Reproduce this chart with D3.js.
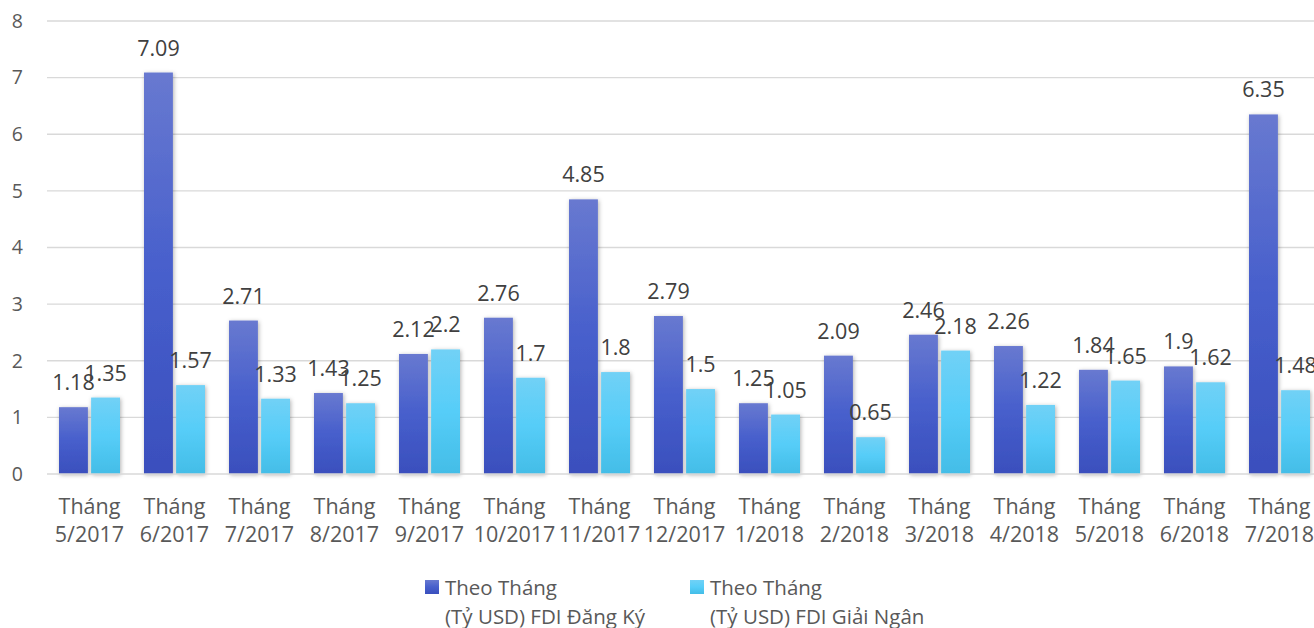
<!DOCTYPE html>
<html>
<head>
<meta charset="utf-8">
<script src="https://cdn.jsdelivr.net/npm/d3@7"></script>
<style>
  html, body { margin: 0; padding: 0; background: #fff; }
  svg { display: block; font-family: "Open Sans", "Noto Sans", sans-serif; }
</style>
</head>
<body>
<svg id="chart" width="1314" height="628"></svg>
<script>
// Monthly FDI, billions USD
const months = ["Tháng 5/2017", "Tháng 6/2017", "Tháng 7/2017", "Tháng 8/2017", "Tháng 9/2017",
  "Tháng 10/2017", "Tháng 11/2017", "Tháng 12/2017", "Tháng 1/2018", "Tháng 2/2018",
  "Tháng 3/2018", "Tháng 4/2018", "Tháng 5/2018", "Tháng 6/2018", "Tháng 7/2018"];
const registered = [1.18, 7.09, 2.71, 1.43, 2.12, 2.76, 4.85, 2.79, 1.25, 2.09, 2.46, 2.26, 1.84, 1.9, 6.35];
const disbursed = [1.35, 1.57, 1.33, 1.25, 2.2, 1.7, 1.8, 1.5, 1.05, 0.65, 2.18, 1.22, 1.65, 1.62, 1.48];
const yTicks = [0, 1, 2, 3, 4, 5, 6, 7, 8];
const seriesNames = [
  ["Theo Tháng", "(Tỷ USD) FDI Đăng Ký"],
  ["Theo Tháng", "(Tỷ USD) FDI Giải Ngân"]
];

const svg = d3.select("#chart");
const left = 47, bandW = 85;
const x = d3.scaleBand().domain(months).range([left, left + bandW * months.length]).paddingInner(0).paddingOuter(0);
const y = d3.scaleLinear().domain([0, 8]).range([474, 21]);
const inner = d3.scaleBand().domain([0, 1]).range([12, 73]).paddingInner(0.1);

const defs = svg.append("defs");
function grad(id, stops) {
  const g = defs.append("linearGradient").attr("id", id).attr("x1", 0).attr("y1", 0).attr("x2", 0).attr("y2", 1);
  stops.forEach(([o, c]) => g.append("stop").attr("offset", o).attr("stop-color", c));
}
grad("gReg", [[0, "#6879d0"], [0.5, "#475fcc"], [1, "#3a4fbd"]]);
grad("gDis", [[0, "#71d1f6"], [0.5, "#56cdf8"], [1, "#43bde7"]]);
const f = defs.append("filter").attr("id", "shadow").attr("x", "-30%").attr("y", "-10%").attr("width", "160%").attr("height", "120%");
f.append("feDropShadow").attr("dx", 1).attr("dy", 1).attr("stdDeviation", 2).attr("flood-color", "#000").attr("flood-opacity", 0.3);

// gridlines
svg.append("g").selectAll("line").data(yTicks.filter(d => d > 0)).join("line")
  .attr("x1", left).attr("x2", 1314).attr("y1", d => y(d)).attr("y2", d => y(d))
  .attr("stroke", "#d9d9d9").attr("stroke-width", 1.3);

// y tick labels
svg.append("g").selectAll("text").data(yTicks).join("text")
  .attr("x", 23).attr("y", d => y(d)).attr("dy", "0.35em").attr("text-anchor", "end")
  .attr("font-size", 19.5).attr("fill", "#595959").text(d => d);

const series = [
  { vals: registered, fill: "url(#gReg)" },
  { vals: disbursed, fill: "url(#gDis)" }
];

const bars = svg.append("g").attr("filter", "url(#shadow)");
series.forEach((s, si) => {
  bars.selectAll(null).data(s.vals).join("rect")
    .attr("x", (d, i) => x(months[i]) + inner(si))
    .attr("width", inner.bandwidth())
    .attr("y", d => y(d))
    .attr("height", d => y(0) - y(d))
    .attr("fill", s.fill);
});

// axis line
svg.append("line").attr("x1", left).attr("x2", 1314).attr("y1", y(0)).attr("y2", y(0))
  .attr("stroke", "#d9d9d9").attr("stroke-width", 1.3);

// value labels
series.forEach((s, si) => {
  svg.append("g").selectAll("text").data(s.vals).join("text")
    .attr("x", (d, i) => x(months[i]) + inner(si) + inner.bandwidth() / 2)
    .attr("y", d => y(d) - 17)
    .attr("text-anchor", "middle").attr("font-size", 21.5).attr("fill", "#404040")
    .text(d => d);
});

// category labels
const cat = svg.append("g").selectAll("text").data(months).join("text")
  .attr("text-anchor", "middle").attr("font-size", 21.5).attr("fill", "#595959");
cat.each(function(d) {
  const parts = d.split(" ");
  const t = d3.select(this);
  const cx = x(d) + x.bandwidth() / 2;
  t.append("tspan").attr("x", cx).attr("y", 514).text(parts[0]);
  t.append("tspan").attr("x", cx).attr("y", 542).text(parts[1]);
});

// legend
const legendX = [425, 690];
const legendFill = ["url(#gReg)", "url(#gDis)"];
seriesNames.forEach((nm, i) => {
  const g = svg.append("g");
  g.append("rect").attr("x", legendX[i]).attr("y", 580).attr("width", 14).attr("height", 14).attr("fill", legendFill[i]);
  g.append("text").attr("x", legendX[i] + 20).attr("y", 595).attr("font-size", 20.5).attr("fill", "#595959").text(nm[0]);
  g.append("text").attr("x", legendX[i] + 20).attr("y", 624).attr("font-size", 20.5).attr("fill", "#595959").text(nm[1]);
});
</script>
</body>
</html>
